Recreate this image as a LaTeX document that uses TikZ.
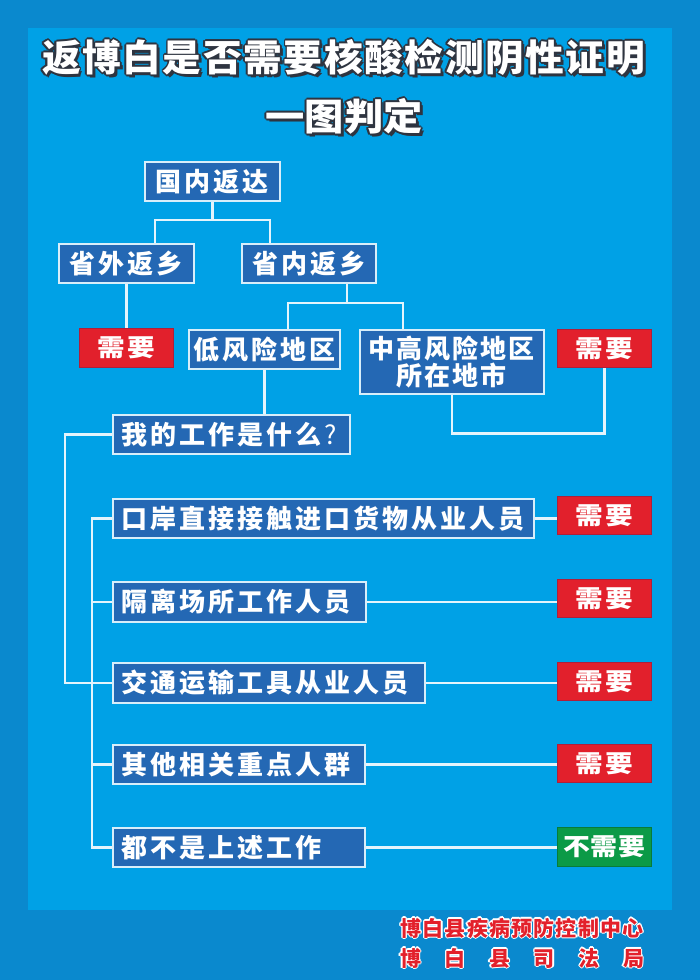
\documentclass[tikz,border=0pt]{standalone}
\usepackage{fontspec}
\setmainfont{Noto Sans CJK SC}
\usepackage{graphicx}
\definecolor{outerbg}{HTML}{0A89CE}
\definecolor{innerbg}{HTML}{00A1E6}
\definecolor{boxblue}{HTML}{2468B4}
\definecolor{boxline}{HTML}{D8EEFA}
\definecolor{lineclr}{HTML}{E4F4FC}
\definecolor{needred}{HTML}{E2202C}
\definecolor{reddark}{HTML}{B01E3A}
\definecolor{okgreen}{HTML}{0B9A47}
\definecolor{titleline}{HTML}{2E3440}
\definecolor{footred}{HTML}{E3202B}
\newdimen\lsamt
\def\ls#1{\lsA#1\relax}
\def\lsA#1#2{#1\ifx\relax#2\else\kern\lsamt\expandafter\lsA\expandafter#2\fi}
\newcommand\olt[4]{\begingroup\setbox0\hbox{\color{#1}#4}\dimen0=#3\relax\dimen2=0.707\dimen0
 \leavevmode
 \rlap{\kern\dimen0\copy0}\rlap{\kern-\dimen0\copy0}\rlap{\raise\dimen0\copy0}\rlap{\raise-\dimen0\copy0}%
 \rlap{\kern\dimen2\raise\dimen2\copy0}\rlap{\kern-\dimen2\raise\dimen2\copy0}%
 \rlap{\kern\dimen2\raise-\dimen2\copy0}\rlap{\kern-\dimen2\raise-\dimen2\copy0}%
 {\color{#2}#4}\endgroup}
\newcommand\oltsh[4]{\begingroup\setbox0\hbox{\color{#1}#4}\dimen0=#3\relax\dimen4=1.6\dimen0
 \leavevmode\rlap{\kern\dimen4\raise-\dimen4\copy0}\olt{#1}{#2}{#3}{#4}\endgroup}
\tikzset{
  box/.style={draw=boxline, line width=1.6pt, fill=boxblue, text=white, inner ysep=0pt,
    inner xsep=9pt, anchor=north west,
    font={\bfseries\fontsize{26}{27}\selectfont\lsamt=3pt}},
  redbox/.style={draw=reddark, line width=0.8pt, fill=needred, text=white, inner sep=0pt,
    anchor=north west, minimum width=94, minimum height=38,
    font={\bfseries\fontsize{24}{26}\selectfont\lsamt=2pt}},
  greenbox/.style={redbox, fill=okgreen, draw=okgreen!80!black},
  conn/.style={draw=lineclr, line width=2.5pt},
  title/.style={inner sep=0pt, font={\bfseries\fontsize{37}{40}\selectfont}},
  foot/.style={inner sep=0pt, font={\bfseries\fontsize{21}{23}\selectfont}}
}
\begin{document}
\begin{tikzpicture}[x=1pt,y=-1pt]
\useasboundingbox (0,0) rectangle (700,980);
\fill[outerbg] (0,0) rectangle (700,980);
\fill[innerbg] (28,28) rectangle (672,910);

% title
\node[title] (t1) at (343.5,58) {\resizebox{603pt}{\height}{\lsamt=1.5pt\oltsh{titleline}{white}{1.7pt}{\ls{返博白是否需要核酸检测阴性证明}}}};
\node[title] (t2) at (344,117) {\resizebox{157pt}{\height}{\lsamt=0pt\oltsh{titleline}{white}{1.7pt}{\ls{一图判定}}}};

% blue boxes
\node[box, minimum height=39, text width=117, align=center] (gn) at (144,161) {\ls{国内返达}};
\node[box, minimum height=39, text width=117, align=center] (sw) at (58,243) {\ls{省外返乡}};
\node[box, minimum height=39, text width=116, align=center] (sn) at (241,243) {\ls{省内返乡}};
\node[box, minimum height=39, inner xsep=4.5pt, text width=142, align=center] (dfx) at (188,329) {\ls{低风险地区}};
\node[box, minimum height=64, text width=166, align=center, font={\bfseries\fontsize{26}{27}\selectfont\lsamt=2pt}] (zg) at (359,329) {\ls{中高风险地区}\\\ls{所在地市}};
\node[box, minimum height=39, text width=219, align=left] (wd) at (112,414) {\ls{我的工作是什么}\kern\lsamt{\mdseries ?}};
\node[box, minimum height=39, text width=403, align=left] (ka) at (112,498) {\ls{口岸直接接触进口货物从业人员}};
\node[box, minimum height=40, text width=235, align=left] (gl) at (112,581) {\ls{隔离场所工作人员}};
\node[box, minimum height=40, text width=294, align=left] (jt) at (112,662) {\ls{交通运输工具从业人员}};
\node[box, minimum height=39, text width=234, align=left] (qt) at (112,744) {\ls{其他相关重点人群}};
\node[box, minimum height=39, text width=234, align=left] (db) at (112,827) {\ls{都不是上述工作}};

% result boxes
\node[redbox, minimum height=39] (r1) at (79,328) {\scalebox{1.15}[1]{\ls{需要}}};
\node[redbox] (r2) at (557,329) {\scalebox{1.15}[1]{\ls{需要}}};
\node[redbox] (r3) at (557,496) {\scalebox{1.15}[1]{\ls{需要}}};
\node[redbox] (r4) at (557,579) {\scalebox{1.15}[1]{\ls{需要}}};
\node[redbox] (r5) at (557,662) {\scalebox{1.15}[1]{\ls{需要}}};
\node[redbox] (r6) at (557,744) {\scalebox{1.15}[1]{\ls{需要}}};
\node[greenbox, minimum height=39, font={\bfseries\fontsize{24}{26}\selectfont\lsamt=0.5pt}] (g1) at (557,827) {\scalebox{1.12}[1]{\ls{不需要}}};

% junctions
\coordinate (a1) at (155,220);
\coordinate (a2) at (270,220);
\coordinate (b0) at (347,303);
\coordinate (b1) at (288,303);
\coordinate (b2) at (403,303);
\coordinate (v1) at (92,0);

% connectors
\draw[conn] (gn.south) -- (gn.south |- a1);
\draw[conn] (sw.north -| a1) -- (a1) -- (a2) -- (sn.north -| a2);
\draw[conn] (sw.south) -- (sw.south |- r1.north);
\draw[conn] (sn.south -| b0) -- (b0);
\draw[conn] (dfx.north -| b1) -- (b1) -- (b2) -- (zg.north -| b2);
\draw[conn] (zg.south) -- ++(0,39) -| (r2.south);
\draw[conn] (dfx.south) -- (dfx.south |- wd.north);
\draw[conn] (wd.west) -- ++(-47,0) |- (jt.west);
\draw[conn] (ka.west) -- (ka.west -| v1) -- (db.west -| v1) -- (db.west);
\draw[conn] (gl.west) -- (gl.west -| v1);
\draw[conn] (qt.west) -- (qt.west -| v1);
\draw[conn] (ka.east) -- (ka.east -| r3.west);
\draw[conn] (gl.east) -- (gl.east -| r4.west);
\draw[conn] (jt.east) -- (jt.east -| r5.west);
\draw[conn] (qt.east) -- (qt.east -| r6.west);
\draw[conn] (db.east) -- (db.east -| g1.west);

% footer
\node[foot] (f1) at (522,928) {\lsamt=1.2pt\olt{white}{footred}{1.3pt}{\ls{博白县疾病预防控制中心}}};
\node[foot] (f2) at (522,958) {\lsamt=23.6pt\olt{white}{footred}{1.3pt}{\ls{博白县司法局}}};
\end{tikzpicture}
\end{document}
